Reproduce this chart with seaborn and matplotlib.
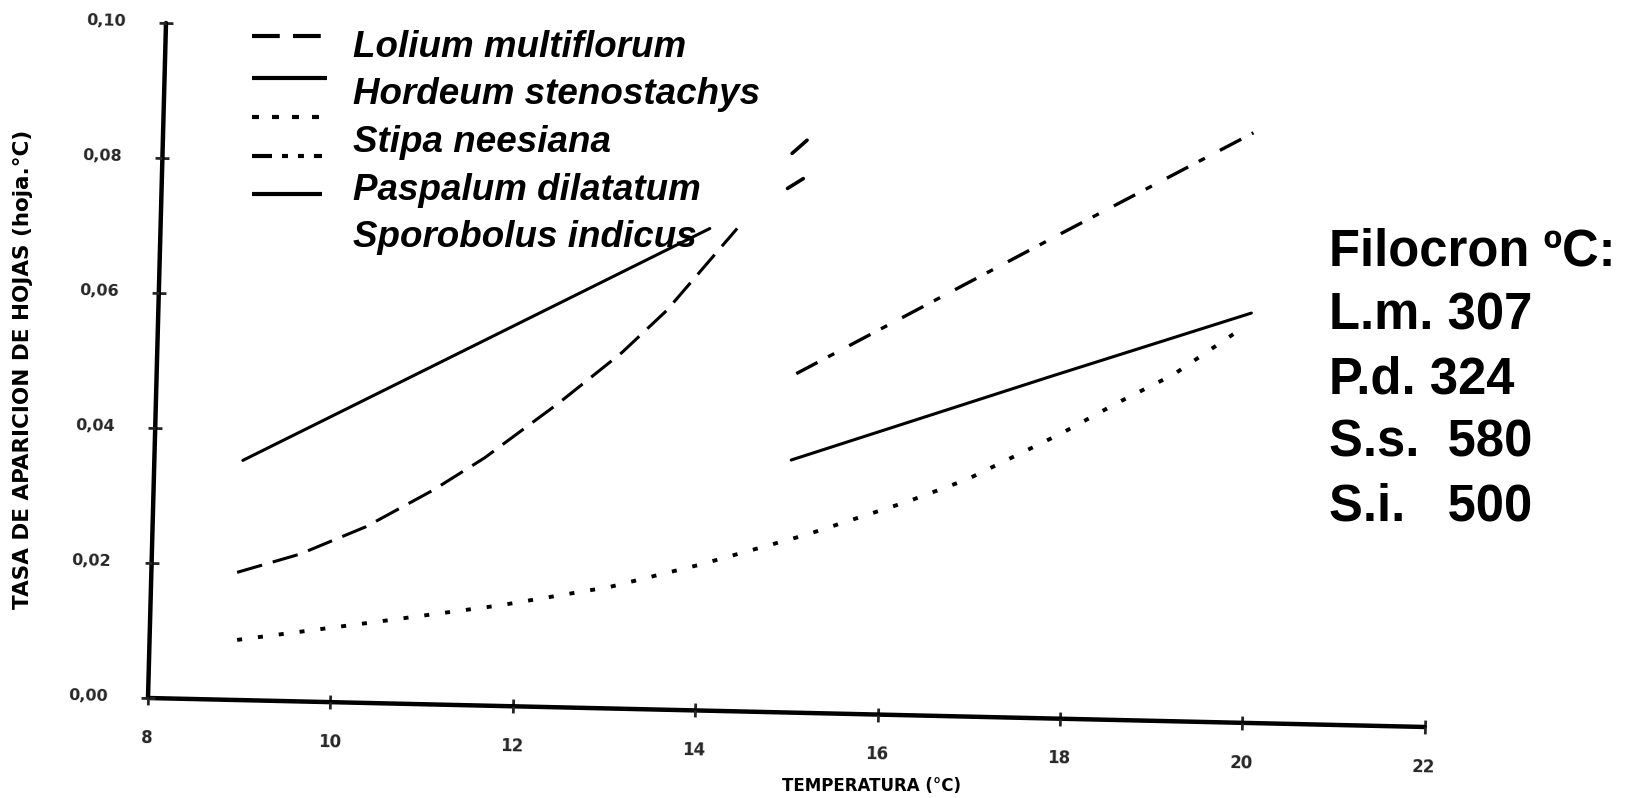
import numpy as np
import matplotlib
matplotlib.use("Agg")
import matplotlib.pyplot as plt
from matplotlib.lines import Line2D
from matplotlib.transforms import Affine2D
from matplotlib import font_manager
import mpl_toolkits.axisartist.floating_axes as floating_axes
from mpl_toolkits.axisartist.grid_finder import FixedLocator, DictFormatter
import seaborn as sns

# ---------------- data ----------------
x_ticks = [8, 10, 12, 14, 16, 18, 20, 22]
x_tick_labels = ["8", "10", "12", "14", "16", "18", "20", "22"]
y_ticks = [0.00, 0.02, 0.04, 0.06, 0.08, 0.10]
y_tick_labels = ["0,00", "0,02", "0,04", "0,06", "0,08", "0,10"]

species = ["Lolium multiflorum", "Hordeum stenostachys", "Stipa neesiana",
           "Paspalum dilatatum", "Sporobolus indicus"]

lolium_temp = [8.94, 9.62, 10.34, 11.06, 11.62, 12.42, 13.09, 13.57, 14.32]
lolium_rate = [0.0189, 0.0218, 0.0261, 0.0317, 0.0367, 0.0451, 0.0527, 0.0591, 0.0715]

hordeum_temp = [8.97, 11.53, 14.02]
hordeum_rate = [0.0355, 0.0537, 0.0714]

stipa_temp = [8.96, 10.46, 11.83, 13.03, 14.01, 15.17, 16.26, 16.91, 17.94, 18.53, 19.14, 19.88]
stipa_rate = [0.0089, 0.0120, 0.0149, 0.0180, 0.0216, 0.0264, 0.0316, 0.0351, 0.0423, 0.0469,
              0.0513, 0.0584]

paspalum_temp = [15.01, 17.88, 19.95]
paspalum_rate = [0.0502, 0.0719, 0.0874]

sporobolus_temp = [14.98, 17.79, 19.98]
sporobolus_rate = [0.0374, 0.0506, 0.0607]

# two short stray strokes near 15 °C
stroke_a_temp = [14.90, 15.06]
stroke_a_rate = [0.0828, 0.0848]
stroke_b_temp = [14.86, 15.03]
stroke_b_rate = [0.0776, 0.0791]

filocron_lines = ["Filocron \u00baC:", "L.m. 307", "P.d. 324", "S.s.  580", "S.i.   500"]

x_title = "TEMPERATURA (\u00b0C)"
y_title = "TASA DE APARICION DE HOJAS (hoja.\u00b0C)"

# ---------------- styling ----------------
sns.set_style("white")
plt.rcParams["lines.scale_dashes"] = False


def first_available(families):
    for fam in families:
        try:
            font_manager.findfont(font_manager.FontProperties(family=fam),
                                  fallback_to_default=False)
            return fam
        except ValueError:
            continue
    return "DejaVu Sans"


sans = first_available(["Liberation Sans", "Arial", "DejaVu Sans"])
narrow = first_available(["Liberation Sans Narrow", "DejaVu Sans"])
plt.rcParams["font.family"] = [sans, "DejaVu Sans"]

W, H = 1628, 798
fig = plt.figure(figsize=(W / 100, H / 100), dpi=100)


def fx(px):
    return px / W


def fy(py):
    return 1 - py / H


# The frame is slightly tilted: map (temperature, rate) onto figure pixels (y up).
px_per_deg = 91.19
px_per_rate = 6750.0
drop_per_deg = -2.07      # vertical drift of the temperature axis
lean_per_rate = 180.0     # horizontal drift of the rate axis
origin_px = (148.0, 100.0)
t0 = x_ticks[0]
tr = Affine2D(np.array([
    [px_per_deg, lean_per_rate, origin_px[0] - t0 * px_per_deg],
    [drop_per_deg, px_per_rate, origin_px[1] - t0 * drop_per_deg],
    [0.0, 0.0, 1.0],
]))

extremes = (x_ticks[0], x_ticks[-1], y_ticks[0], y_ticks[-1])
corners = tr.transform([[extremes[0], extremes[2]], [extremes[1], extremes[2]],
                        [extremes[0], extremes[3]], [extremes[1], extremes[3]]])
xmin, ymin = corners.min(axis=0)
xmax, ymax = corners.max(axis=0)
cx, cy = (xmin + xmax) / 2, (ymin + ymax) / 2
bw, bh = (xmax - xmin) * 1.02, (ymax - ymin) * 1.02
rect = [(cx - bw / 2) / W, (cy - bh / 2) / H, bw / W, bh / H]

grid_helper = floating_axes.GridHelperCurveLinear(
    tr, extremes=extremes,
    grid_locator1=FixedLocator(x_ticks),
    grid_locator2=FixedLocator(y_ticks),
    tick_formatter1=DictFormatter(dict(zip(x_ticks, x_tick_labels))),
    tick_formatter2=DictFormatter(dict(zip(y_ticks, y_tick_labels))),
)
ax = fig.add_axes(rect, axes_class=floating_axes.FloatingAxes, grid_helper=grid_helper)
ax.axis["top"].set_visible(False)
ax.axis["right"].set_visible(False)

for loc in ["left", "bottom"]:
    axis = ax.axis[loc]
    axis.line.set_linewidth(3.2)
    axis.line.set_color("black")
    axis.major_ticks.set_ticksize(5)
    axis.major_ticks.set_markeredgewidth(2.0)
    axis.major_ticklabels.set_fontfamily("DejaVu Sans")
    axis.major_ticklabels.set_fontweight("bold")
ax.axis["left"].major_ticklabels.set_fontsize(11.5)
ax.axis["left"].major_ticklabels.set_pad(29)
ax.axis["bottom"].major_ticklabels.set_fontsize(12)
ax.axis["bottom"].major_ticklabels.set_pad(23)

# outward halves of the tick marks
gh = ax.get_grid_helper()
for loc in ["left", "bottom"]:
    extra = gh.new_fixed_axis(loc, axes=ax)
    ax.axis[loc + "_out"] = extra
    extra.line.set_visible(False)
    extra.major_ticklabels.set_visible(False)
    extra.label.set_visible(False)
    extra.major_ticks.set_tick_out(True)
    extra.major_ticks.set_ticksize(5)
    extra.major_ticks.set_markeredgewidth(2.0)

aux = ax.get_aux_axes(tr)
aux.patch = ax.patch
ax.patch.zorder = 0.9

ink = "black"
lolium_ls = (0, (18.7, 8.0))
stipa_ls = (0, (3.6, 11.5))
paspalum_ls = (0, (17.3, 8.6, 5.0, 12.2))

sns.lineplot(x=lolium_temp, y=lolium_rate, ax=aux, color=ink, linewidth=2.2,
             linestyle=lolium_ls, sort=False, errorbar=None, legend=False)
sns.lineplot(x=hordeum_temp, y=hordeum_rate, ax=aux, color=ink, linewidth=2.2,
             sort=False, errorbar=None, legend=False)
sns.lineplot(x=stipa_temp, y=stipa_rate, ax=aux, color=ink, linewidth=2.8,
             linestyle=stipa_ls, sort=False, errorbar=None, legend=False)
sns.lineplot(x=paspalum_temp, y=paspalum_rate, ax=aux, color=ink, linewidth=2.4,
             linestyle=paspalum_ls, sort=False, errorbar=None, legend=False)
sns.lineplot(x=sporobolus_temp, y=sporobolus_rate, ax=aux, color=ink, linewidth=2.2,
             sort=False, errorbar=None, legend=False)
sns.lineplot(x=stroke_a_temp, y=stroke_a_rate, ax=aux, color=ink, linewidth=2.6,
             sort=False, errorbar=None, legend=False)
sns.lineplot(x=stroke_b_temp, y=stroke_b_rate, ax=aux, color=ink, linewidth=2.6,
             sort=False, errorbar=None, legend=False)

# ---------------- key ----------------
key_styles = [
    ((0, (20.0, 9.5)), 252, 324),
    ("-", 252, 327),
    ((0, (5.0, 9.4)), 252, 325),
    ((0, (14.4, 7.2, 4.3, 7.2, 4.3, 7.2)), 252, 322),
    ("-", 252, 322),
]
key_rows_px = [36, 78, 117, 156, 194]
label_baselines_px = [57, 104.5, 152, 199.5, 247]
for (ls, x0, x1), ky, by, name in zip(key_styles, key_rows_px, label_baselines_px, species):
    fig.add_artist(Line2D([fx(x0), fx(x1)], [fy(ky), fy(ky)], transform=fig.transFigure,
                          color=ink, linewidth=3.0, linestyle=ls, solid_capstyle="butt",
                          dash_capstyle="butt"))
    fig.text(fx(353), fy(by), name, fontsize=26.5, fontweight="bold", fontstyle="italic",
             va="baseline", ha="left", color=ink)

# ---------------- phyllochron notes ----------------
note_baselines_px = [266, 329.6, 393.2, 456.8, 520.4]
for line, by in zip(filocron_lines, note_baselines_px):
    fig.text(fx(1329), fy(by), line, fontsize=36.5, fontweight="bold",
             va="baseline", ha="left", color=ink)

# ---------------- axis titles ----------------
fig.text(fx(872), fy(786), x_title, fontsize=12, fontweight="bold", family=narrow,
         ha="center", va="center", color=ink)
fig.text(fx(23), fy(369), y_title, fontsize=15.5, fontweight="bold", family=narrow,
         rotation=90, ha="center", va="center", color=ink)

fig.savefig("out.png", dpi=100, facecolor="white")
